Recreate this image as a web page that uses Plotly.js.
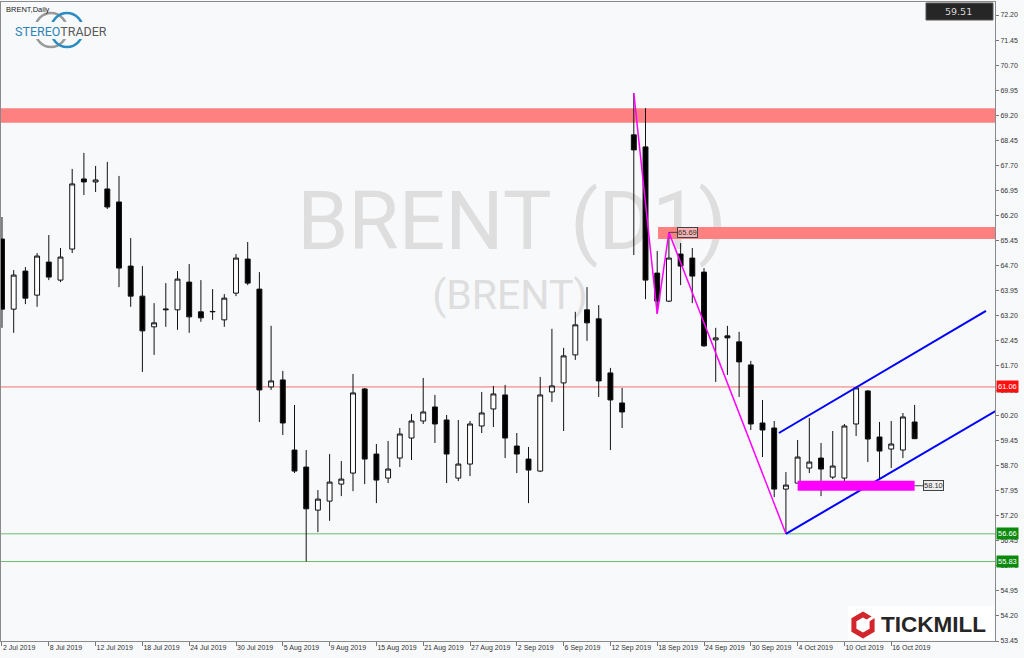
<!DOCTYPE html>
<html><head><meta charset="utf-8">
<script src="https://cdn.plot.ly/plotly-3.0.1.min.js"></script>
<style>html,body{margin:0;padding:0;background:#f8f9fb;}#chart{width:1024px;height:658px;}</style>
</head><body><div id="chart"></div>
<script>
// ---- data ----
const dates = [
 '2019-07-02','2019-07-03','2019-07-04','2019-07-05','2019-07-08','2019-07-09','2019-07-10','2019-07-11','2019-07-12','2019-07-15',
 '2019-07-16','2019-07-17','2019-07-18','2019-07-19','2019-07-22','2019-07-23','2019-07-24','2019-07-25','2019-07-26','2019-07-29',
 '2019-07-30','2019-07-31','2019-08-01','2019-08-02','2019-08-05','2019-08-06','2019-08-07','2019-08-08','2019-08-09','2019-08-12',
 '2019-08-13','2019-08-14','2019-08-15','2019-08-16','2019-08-19','2019-08-20','2019-08-21','2019-08-22','2019-08-23','2019-08-26',
 '2019-08-27','2019-08-28','2019-08-29','2019-08-30','2019-09-02','2019-09-03','2019-09-04','2019-09-05','2019-09-06','2019-09-09',
 '2019-09-10','2019-09-11','2019-09-12','2019-09-13','2019-09-16','2019-09-17','2019-09-18','2019-09-19','2019-09-20','2019-09-23',
 '2019-09-24','2019-09-25','2019-09-26','2019-09-27','2019-09-30','2019-10-01','2019-10-02','2019-10-03','2019-10-04','2019-10-07',
 '2019-10-08','2019-10-09','2019-10-10','2019-10-11','2019-10-14','2019-10-15','2019-10-16','2019-10-17','2019-10-18'];
const opens = [65.49,63.39,64.53,63.81,64.80,64.26,65.19,67.29,67.20,66.99, 66.60,64.68,63.78,62.86,63.37,63.37,64.20,63.31,63.31,63.07,
 63.87,64.89,63.99,61.06,61.27,59.17,58.66,57.37,57.64,58.15, 58.48,61.00,59.05,58.33,58.93,59.53,60.04,60.46,60.07,58.33,
 58.75,59.89,60.40,60.82,59.29,58.90,58.54,60.91,61.18,62.02, 63.37,63.10,61.48,60.58,68.61,68.25,64.47,63.63,65.04,64.92,
 64.50,62.47,62.59,62.41,61.72,59.98,59.83,58.00,58.18,58.63, 58.93,58.36,58.33,59.95,60.94,59.56,59.20,59.17,60.01];
const highs = [66.15,64.56,64.65,65.07,65.61,65.22,67.59,68.07,67.68,67.80, 67.38,65.52,64.68,63.57,64.17,64.53,64.74,64.26,63.99,63.84,
 65.04,65.40,64.50,62.89,61.54,60.52,59.17,57.97,59.05,58.84, 61.45,61.03,59.35,59.44,59.83,60.25,61.33,60.82,60.22,60.07,
 60.04,60.91,61.09,61.12,59.68,59.26,61.36,62.80,62.23,63.31, 64.05,63.51,61.63,61.03,69.86,69.41,65.13,65.69,65.37,65.22,
 64.62,62.83,62.89,62.71,61.84,60.67,60.04,58.51,59.47,60.13, 59.38,59.74,59.95,61.06,60.97,60.01,60.04,60.28,60.52];
const lows = [62.83,62.68,63.54,63.46,64.26,64.20,65.07,66.81,66.90,66.39, 64.05,63.46,61.51,62.02,62.86,62.77,62.68,63.01,63.07,62.86,
 63.78,64.11,60.01,60.97,59.62,58.48,55.83,56.71,57.05,57.79, 57.94,58.15,57.58,58.18,58.66,58.87,59.95,59.38,58.18,58.24,
 58.39,59.68,59.86,58.93,58.48,57.58,58.51,60.61,59.74,61.87, 62.44,60.76,59.17,59.83,65.01,63.69,63.25,63.60,64.11,63.57,
 62.26,61.21,61.42,60.76,59.77,58.96,57.76,56.66,58.18,58.48, 57.79,58.30,58.18,59.59,58.81,58.27,58.63,58.93,59.68];
const closes = [63.39,64.41,63.72,64.98,64.35,64.95,67.14,67.20,67.26,66.45, 64.62,63.78,62.74,62.98,63.39,64.29,63.16,63.13,63.32,63.72,
 64.92,64.17,60.97,61.24,59.98,58.54,57.41,57.70,58.21,58.30, 60.88,58.90,58.27,58.60,59.65,60.04,60.31,59.95,59.05,58.75,
 59.95,60.28,60.85,59.53,59.05,58.57,60.82,61.09,61.99,62.92, 62.98,61.24,60.67,60.31,68.16,64.26,63.63,64.92,64.68,64.38,
 62.29,62.53,62.53,61.81,59.95,59.77,58.00,58.12,58.96,58.81, 58.60,58.69,59.89,61.03,59.50,59.14,59.35,60.16,59.51];

const tickDates = ['2019-07-02','2019-07-08','2019-07-12','2019-07-18','2019-07-24','2019-07-30','2019-08-05','2019-08-09','2019-08-15','2019-08-21',
 '2019-08-27','2019-09-02','2019-09-06','2019-09-12','2019-09-18','2019-09-24','2019-09-30','2019-10-04','2019-10-10','2019-10-16'];
const tickLabels = ['2 Jul 2019','8 Jul 2019','12 Jul 2019','18 Jul 2019','24 Jul 2019','30 Jul 2019','5 Aug 2019','9 Aug 2019','15 Aug 2019','21 Aug 2019',
 '27 Aug 2019','2 Sep 2019','6 Sep 2019','12 Sep 2019','18 Sep 2019','24 Sep 2019','30 Sep 2019','4 Oct 2019','10 Oct 2019','16 Oct 2019'];
const priceTicks = ['53.45','54.20','54.95','55.70','56.45','57.20','57.95','58.70','59.45','60.20','60.95','61.70','62.45','63.20',
 '63.95','64.70','65.45','66.20','66.95','67.70','68.45','69.20','69.95','70.70','71.45','72.20'];

// zig-zag (bar index, price)
const zigzagBar = [54, 56, 57, 67];
const zigzagPrice = [69.86, 63.25, 65.69, 56.66];
// channel lines
const channelUpBar = [66.4, 84.1];
const channelUpPrice = [59.68, 63.34];
const channelLoBar = [67, 86];
const channelLoPrice = [56.66, 60.56];
// support line (magenta)
const supportBar = [68, 78];
const supportPrice = [58.10, 58.10];
// resistance zones
const zoneStartBar = [-1, 56.07];
const zoneTop = [69.41, 65.85];
const zoneBottom = [68.97, 65.49];
// horizontal levels
const redLevels = [61.06];
const greenLevels = [56.66, 55.83];
const lastPrice = 59.51;

// ---- layout helpers ----
const L = 1, R = 995, T = 2, B = 641;
const PX = x => (x - L) / (R - L);
const PY = y => (B - y) / (B - T);

const bars = dates.map((d, i) => i);
const tickvals = tickDates.map(d => dates.indexOf(d));

const traces = [
 {type:'candlestick', x:bars, open:opens, high:highs, low:lows, close:closes,
  increasing:{line:{color:'#111', width:1}, fillcolor:'#ffffff'},
  decreasing:{line:{color:'#111', width:1}, fillcolor:'#000000'},
  whiskerwidth:0, hoverinfo:'skip'},
 {type:'scatter', mode:'lines', x:zigzagBar, y:zigzagPrice, line:{color:'#ff00ff', width:1.5}, hoverinfo:'skip'},
 {type:'scatter', mode:'lines', x:channelUpBar, y:channelUpPrice, line:{color:'#0000ff', width:2}, hoverinfo:'skip'},
 {type:'scatter', mode:'lines', x:channelLoBar, y:channelLoPrice, line:{color:'#0000ff', width:2}, hoverinfo:'skip'},
 {type:'scatter', mode:'lines', x:supportBar, y:supportPrice, line:{color:'#ff00ff', width:10}, hoverinfo:'skip'}
];

const shapes = [];
// watermark (shape labels, drawn below everything)
shapes.push({type:'rect', layer:'below', xref:'paper', yref:'paper', x0:PX(250), x1:PX(774), y0:PY(262), y1:PY(168),
  line:{width:0}, fillcolor:'rgba(0,0,0,0)',
  label:{text:'BRENT (D1)', textposition:'middle center', font:{family:'Roboto, Open Sans, sans-serif', size:82, color:'#dedede'}}});
shapes.push({type:'rect', layer:'below', xref:'paper', yref:'paper', x0:PX(400), x1:PX(620), y0:PY(318), y1:PY(266),
  line:{width:0}, fillcolor:'rgba(0,0,0,0)',
  label:{text:'(BRENT)', textposition:'middle center', font:{family:'Roboto, Open Sans, sans-serif', size:41, color:'#dedede'}}});
// zones
zoneTop.forEach((t, i) => shapes.push({type:'rect', layer:'below', xref:'x', yref:'y', x0:zoneStartBar[i], x1:90,
  y0:zoneBottom[i], y1:t, line:{width:0}, fillcolor:'#ff8080'}));
redLevels.forEach(v => shapes.push({type:'line', layer:'below', xref:'paper', yref:'y', x0:0, x1:1, y0:v, y1:v, line:{color:'#f07070', width:1}}));
greenLevels.forEach(v => shapes.push({type:'line', layer:'below', xref:'paper', yref:'y', x0:0, x1:1, y0:v, y1:v, line:{color:'#6dbb6d', width:1}}));

// StereoTrader logo rings
shapes.push({type:'circle', xref:'paper', yref:'paper', x0:PX(35), x1:PX(67), y0:PY(47), y1:PY(13), line:{color:'#9a9a9a', width:2.5}});
shapes.push({type:'circle', xref:'paper', yref:'paper', x0:PX(51), x1:PX(83), y0:PY(47), y1:PY(13), line:{color:'#2a8cc0', width:2.5}});
shapes.push({type:'rect', xref:'paper', yref:'paper', x0:PX(19), x1:PX(103), y0:PY(39), y1:PY(22), line:{width:0}, fillcolor:'#f8f9fb'});

// last price box at top right
shapes.push({type:'rect', xref:'paper', yref:'paper', x0:PX(926), x1:PX(993), y0:PY(20), y1:PY(3), line:{color:'#555', width:1}, fillcolor:'#262626'});

// Tickmill logo
shapes.push({type:'rect', xref:'paper', yref:'paper', x0:PX(848), x1:PX(994), y0:PY(640), y1:PY(606), line:{width:0}, fillcolor:'#ffffff'});
(function(){
  const cx = 863, cy = 625, r = 10.5, h = r * 0.866;
  const pts = [[cx, cy - r], [cx + h, cy - r/2], [cx + h, cy + r/2], [cx, cy + r], [cx - h, cy + r/2], [cx - h, cy - r/2]];
  const path = 'M' + pts.map(p => PX(p[0]) + ',' + PY(p[1])).join(' L') + ' Z';
  shapes.push({type:'path', xref:'paper', yref:'paper', path:path, line:{color:'#d3262c', width:5}, fillcolor:'rgba(0,0,0,0)'});
  shapes.push({type:'line', xref:'paper', yref:'paper', x0:PX(cx + 1), y0:PY(cy - 2), x1:PX(cx + 12), y1:PY(cy - 9), line:{color:'#ffffff', width:3}});
})();

const baseFont = 'Liberation Sans, Arial, sans-serif';
const annotations = [
 {xref:'paper', yref:'paper', x:PX(4), y:PY(3), xanchor:'left', yanchor:'top', showarrow:false,
  text:'BRENT,Daily', font:{family:baseFont, size:7.5, color:'#222'}},
 {xref:'paper', yref:'paper', x:PX(61), y:PY(31.5), xanchor:'center', yanchor:'middle', showarrow:false,
  text:'<span style="color:#2d83b7">STEREO</span><span style="color:#595959">TRADER</span>',
  font:{family:'Roboto, sans-serif', size:12.5}},
 {xref:'paper', yref:'paper', x:PX(958), y:PY(11.5), xanchor:'center', yanchor:'middle', showarrow:false,
  text:lastPrice.toFixed(2), font:{family:'DejaVu Sans, sans-serif', size:9.5, color:'#d8d8d8'}},
 {xref:'paper', yref:'paper', x:PX(879), y:PY(624), xanchor:'left', yanchor:'middle', showarrow:false,
  text:'<b>TICKMILL</b>', font:{family:baseFont, size:22.5, color:'#262626'}},
 {xref:'x', yref:'y', x:zigzagBar[2], y:zigzagPrice[2], ax:19, ay:0, showarrow:true, arrowhead:0, arrowwidth:1, arrowcolor:'#444',
  text:zigzagPrice[2].toFixed(2), bgcolor:'rgba(245,210,210,0.6)', bordercolor:'#444', borderwidth:1, borderpad:0,
  font:{family:baseFont, size:7.5, color:'#333'}},
 {xref:'x', yref:'y', x:supportBar[1], y:supportPrice[1], ax:19, ay:0, showarrow:true, arrowhead:0, arrowwidth:1, arrowcolor:'#444',
  text:supportPrice[1].toFixed(2), bgcolor:'#eeeeee', bordercolor:'#444', borderwidth:1, borderpad:0,
  font:{family:baseFont, size:7.5, color:'#333'}}
];
redLevels.forEach(v => annotations.push({xref:'paper', yref:'y', x:PX(996), y:v, xanchor:'left', yanchor:'middle', showarrow:false,
  text:v.toFixed(2), bgcolor:'#ff1010', borderpad:1, font:{family:baseFont, size:7.5, color:'#ffffff'}}));
greenLevels.forEach(v => annotations.push({xref:'paper', yref:'y', x:PX(996), y:v, xanchor:'left', yanchor:'middle', showarrow:false,
  text:v.toFixed(2), bgcolor:'#0a8a0a', borderpad:1, font:{family:baseFont, size:7.5, color:'#ffffff'}}));

const layout = {
 width:1024, height:658,
 margin:{l:L, r:1024 - R, t:T, b:658 - B, pad:0},
 paper_bgcolor:'#f8f9fb', plot_bgcolor:'#f8f9fb',
 showlegend:false, boxgap:0.4, hovermode:false,
 xaxis:{range:[-0.085, 84.87], tickvals:tickvals, ticktext:tickLabels, ticks:'outside', ticklen:4, tickcolor:'#777',
  tickangle:0, ticklabelposition:'outside right', showgrid:false, zeroline:false, showline:true, linecolor:'#8a8a8a', linewidth:1, mirror:true,
  tickfont:{family:baseFont, size:7, color:'#333'}, rangeslider:{visible:false}, fixedrange:true},
 yaxis:{side:'right', range:[53.45, 72.59], tickvals:priceTicks.map(Number), ticktext:priceTicks, ticks:'outside', ticklen:3, tickcolor:'#777',
  showgrid:false, zeroline:false, showline:true, linecolor:'#8a8a8a', linewidth:1, mirror:true,
  tickfont:{family:baseFont, size:7, color:'#333'}, fixedrange:true},
 shapes:shapes, annotations:annotations
};

Plotly.newPlot('chart', traces, layout, {displayModeBar:false, staticPlot:true});
</script>
</body></html>
